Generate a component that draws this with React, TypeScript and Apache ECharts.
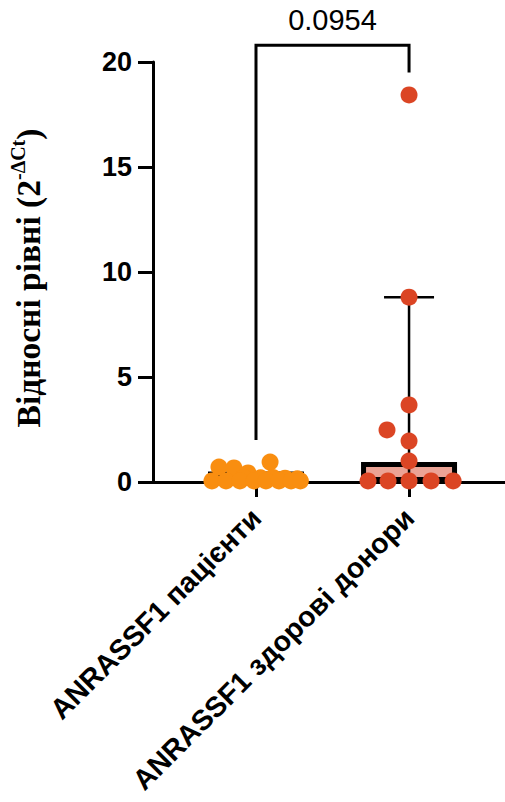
import React, { useEffect, useRef } from "react";
import * as echarts from "echarts";

// ---- data ----
const categories = ["ANRASSF1 пацієнти", "ANRASSF1 здорові донори"];
const categoryPositions = [1, 2];
const yTicks = [0, 5, 10, 15, 20];

// individual points [x position (jittered around group), value]
const patientsPoints: number[][] = [
  [0.758, 0.71], [0.856, 0.67], [1.092, 0.95], [0.948, 0.43],
  [0.92, 0.22], [1.03, 0.2], [1.11, 0.22], [1.19, 0.18], [1.27, 0.15],
  [0.712, 0.05], [0.804, 0.05], [0.895, 0.05], [0.987, 0.05],
  [1.065, 0.05], [1.15, 0.05], [1.229, 0.05], [1.29, 0.05],
];
const donorsPoints: number[][] = [
  [2, 18.43], [2, 8.8], [2, 3.67], [1.856, 2.48], [2, 1.95], [2, 1.0],
  [1.732, 0.05], [1.863, 0.05], [2, 0.05], [2.144, 0.05], [2.288, 0.05],
];

// medians (bars)
const medians = [0.5, 0.95];
// error bars [x, low, high]
const errorBars: number[][] = [[2, 0, 8.8]];
// significance bracket [x1, x2, top, leftLegBottom, rightLegBottom]
const bracket: number[][] = [[1, 2, 20.8, 2.0, 19.5]];
const pValue = "0.0954";

const barColors = ["#F9C58C", "#EBA395"];
const dotColors = ["#F98E10", "#DB4524"];

export default function App() {
  const ref = useRef<HTMLDivElement>(null);
  useEffect(() => {
    if (!ref.current) return;
    const chart = echarts.init(ref.current, null, { renderer: "svg" });
    chart.setOption({
      animation: false,
      backgroundColor: "#ffffff",
      grid: { left: 153, right: 0, top: 62, bottom: 320, containLabel: false },
      xAxis: {
        type: "value",
        min: 0.327,
        max: 2.627,
        splitLine: { show: false },
        axisLine: { show: true, onZero: false, lineStyle: { color: "#000", width: 3 } },
        axisTick: { show: true, customValues: categoryPositions, length: 15, lineStyle: { color: "#000", width: 3 } },
        axisLabel: {
          customValues: categoryPositions,
          rotate: 45,
          margin: 31,
          color: "#000",
          fontFamily: "Liberation Sans, Arial, sans-serif",
          fontWeight: "bold",
          fontSize: 28.5,
          formatter: (v: number) => categories[categoryPositions.indexOf(Math.round(v))] ?? "",
        },
      },
      yAxis: {
        type: "value",
        min: 0,
        max: 20,
        interval: 5,
        splitLine: { show: false },
        axisLine: { show: true, lineStyle: { color: "#000", width: 3 } },
        axisTick: { show: true, length: 15, lineStyle: { color: "#000", width: 3 } },
        axisLabel: {
          margin: 21,
          color: "#000",
          fontFamily: "Liberation Sans, Arial, sans-serif",
          fontWeight: "bold",
          fontSize: 27,
          customValues: yTicks,
        },
        name: "{a|Відносні рівні (2}{b|-ΔCt}{a|)}",
        nameLocation: "middle",
        nameGap: 105,
        nameRotate: 90,
        nameTextStyle: {
          padding: [0, 12, 0, 0],
          rich: {
            a: { fontFamily: "Liberation Serif, Times New Roman, serif", fontWeight: "bold", fontSize: 33.5, color: "#000", lineHeight: 40 },
            b: { fontFamily: "Liberation Serif, Times New Roman, serif", fontWeight: "bold", fontSize: 20, color: "#000", verticalAlign: "top", lineHeight: 40 },
          },
        },
      },
      series: [
        {
          type: "bar",
          barWidth: 96,
          z: 1,
          data: medians.map((m, i) => ({
            value: [categoryPositions[i], m],
            itemStyle: { color: barColors[i], borderColor: "#000", borderWidth: 5 },
          })),
        },
        {
          type: "custom",
          z: 2,
          clip: false,
          data: errorBars,
          renderItem: (params: any, api: any) => {
            const x = api.value(0);
            const lo = api.coord([x, api.value(1)]);
            const hi = api.coord([x, api.value(2)]);
            const half = 25;
            return {
              type: "group",
              children: [
                { type: "line", shape: { x1: lo[0], y1: lo[1], x2: hi[0], y2: hi[1] }, style: { stroke: "#000", lineWidth: 2.5 } },
                { type: "line", shape: { x1: hi[0] - half, y1: hi[1], x2: hi[0] + half, y2: hi[1] }, style: { stroke: "#000", lineWidth: 2.5 } },
              ],
            };
          },
        },
        {
          type: "scatter",
          z: 3,
          symbolSize: 17,
          itemStyle: { color: dotColors[0], opacity: 1 },
          data: patientsPoints,
        },
        {
          type: "scatter",
          z: 3,
          symbolSize: 17,
          itemStyle: { color: dotColors[1], opacity: 1 },
          data: donorsPoints,
        },
        {
          type: "custom",
          z: 4,
          clip: false,
          data: bracket,
          renderItem: (params: any, api: any) => {
            const x1 = api.value(0), x2 = api.value(1), top = api.value(2);
            const pl = api.coord([x1, api.value(3)]);
            const ptl = api.coord([x1, top]);
            const ptr = api.coord([x2, top]);
            const pr = api.coord([x2, api.value(4)]);
            return {
              type: "group",
              children: [
                { type: "polyline", shape: { points: [pl, ptl, ptr, pr] }, style: { stroke: "#000", lineWidth: 3, fill: null } },
                {
                  type: "text",
                  style: {
                    text: pValue,
                    x: (ptl[0] + ptr[0]) / 2,
                    y: ptl[1] - 11,
                    align: "center",
                    verticalAlign: "bottom",
                    fontFamily: "Liberation Sans, Arial, sans-serif",
                    fontSize: 29,
                    fill: "#000",
                  },
                },
              ],
            };
          },
        },
      ],
    });
    return () => chart.dispose();
  }, []);
  return <div ref={ref} style={{ width: 505, height: 802, position: "absolute", left: 0, top: 0 }} />;
}
